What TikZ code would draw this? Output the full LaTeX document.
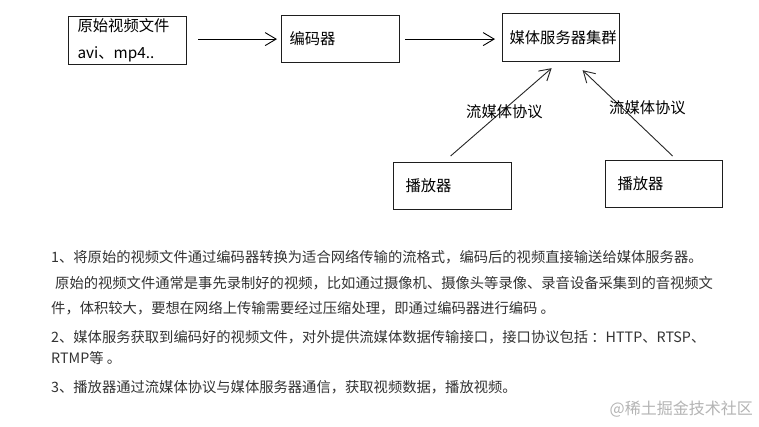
\documentclass[tikz,border=0pt]{standalone}
\usepackage{fontspec}
\setmainfont{Noto Sans CJK SC}
\usetikzlibrary{arrows.meta}
\definecolor{txt}{HTML}{333333}
\definecolor{wm}{HTML}{B4B4B4}
\definecolor{edge}{HTML}{1E1E1E}
\newcommand{\bxl}[2]{\makebox[#1][l]{#2}}
\begin{document}
\begin{tikzpicture}[x=1pt,y=-1pt,
  box/.style={draw=edge, line width=1.2pt, anchor=north west, inner xsep=#1, inner ysep=0pt,
    font=\fontsize{15.3}{18}\selectfont, text=black},
  arr/.style={draw=black, line width=0.9pt, -{Straight Barb[length=11pt,width=13pt,line width=0.9pt]}},
  lbl/.style={anchor=west, inner sep=0pt, text=black, font=\fontsize{15.3}{18}\selectfont},
  para/.style={anchor=west, inner sep=0pt, text=txt, font=\fontsize{14.3}{17}\selectfont},
  wmark/.style={anchor=east, inner sep=0pt, text=wm, font=\fontsize{16}{19}\selectfont}]
\useasboundingbox[fill=white] (0,0) rectangle (759,427);

% boxes
\node[box=9pt, minimum height=48pt, text width=100pt, align=left,
      font=\fontsize{15.3}{27}\selectfont] (src) at (68,16) {原始视频文件\\avi、mp4..};
\node[box=8pt, minimum height=47pt] (enc) at (281,15) {\bxl{102pt}{编码器}};
\node[box=7pt, minimum height=48pt] (srv) at (502,13) {\bxl{103pt}{媒体服务器集群}};
\node[box=12pt, minimum height=47pt] (p1) at (393,162) {\bxl{94pt}{播放器}};
\node[box=12pt, minimum height=47pt] (p2) at (605,160) {\bxl{93pt}{播放器}};

% connectors
\draw[arr] ([xshift=11pt]src.east |- enc.west) -- ([xshift=-4pt]enc.west);
\draw[arr] ([xshift=5pt]enc.east) -- ([xshift=-7pt]srv.west |- enc.east);
\draw[arr, draw=black!85] ([xshift=-2pt,yshift=6pt]p1.north) -- ([xshift=-9.5pt,yshift=-6pt]srv.south);
\draw[arr, draw=black!85] ([xshift=8.5pt,yshift=4pt]p2.north) -- ([xshift=21.5pt,yshift=-8pt]srv.south);

% connector labels
\node[lbl] (l1) at (466,112) {流媒体协议};
\node[lbl] (l2) at (609,108) {流媒体协议};

% paragraphs
\node[para] (t1) at (51,257) {1、将原始的视频文件通过编码器转换为适合网络传输的流格式，编码后的视频直接输送给媒体服务器。};
\node[para] (t2) at (55,283) {原始的视频文件通常是事先录制好的视频，比如通过摄像机、摄像头等录像、录音设备采集到的音视频文};
\node[para] (t3) at (51,308) {件，体积较大，要想在网络上传输需要经过压缩处理，即通过编码器进行编码 。};
\node[para] (t4) at (51,337) {2、媒体服务获取到编码好的视频文件，对外提供流媒体数据传输接口，接口协议包括 ：HTTP、RTSP、};
\node[para] (t5) at (51,358) {RTMP等 。};
\node[para] (t6) at (51,387) {3、播放器通过流媒体协议与媒体服务器通信，获取视频数据，播放视频。};

% watermark
\node[wmark] (wm) at (753,409) {@稀土掘金技术社区};
\end{tikzpicture}
\end{document}
